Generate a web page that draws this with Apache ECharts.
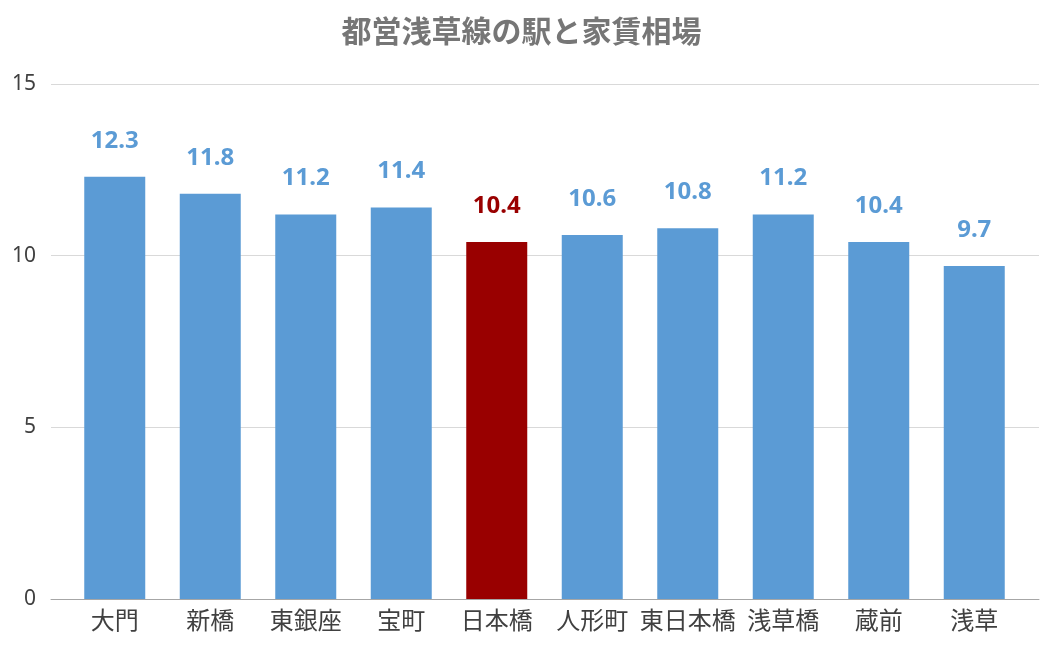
<!DOCTYPE html>
<html>
<head>
<meta charset="utf-8">
<script src="https://cdn.jsdelivr.net/npm/echarts@6/dist/echarts.min.js"></script>
<style>
  html, body { margin: 0; padding: 0; background: #fff; }
  #main { width: 1043px; height: 657px; }
</style>
</head>
<body>
<div id="main"></div>
<script>
const stations = ['大門', '新橋', '東銀座', '宝町', '日本橋', '人形町', '東日本橋', '浅草橋', '蔵前', '浅草'];
const rents = [12.3, 11.8, 11.2, 11.4, 10.4, 10.6, 10.8, 11.2, 10.4, 9.7];
const highlight = '日本橋';

const blue = '#5b9bd5';
const red = '#990000';
const font = '"Noto Sans", "Noto Sans CJK JP", sans-serif';

var chart = echarts.init(document.getElementById('main'));

var barData = rents.map(function (v, i) {
  var c = stations[i] === highlight ? red : blue;
  return { value: v, itemStyle: { color: c }, label: { color: c } };
});

var option = {
  backgroundColor: '#fff',
  animation: false,
  title: {
    text: '都営浅草線の駅と家賃相場',
    left: 'center',
    top: 13,
    textStyle: { fontFamily: font, fontSize: 30, fontWeight: 'bold', color: '#767676' }
  },
  grid: [
    { left: 51, right: 4, top: 84, bottom: 58 },
    { left: 67, right: 21, top: 84, bottom: 58 }
  ],
  xAxis: [
    {
      gridIndex: 0, type: 'value', min: 0, max: 1,
      axisLine: { show: true, lineStyle: { color: '#a6a6a6', width: 1 } },
      axisTick: { show: false }, axisLabel: { show: false }, splitLine: { show: false }
    },
    {
      gridIndex: 1, type: 'category', data: stations,
      axisLine: { show: false }, axisTick: { show: false },
      axisLabel: { interval: 0, fontFamily: font, fontSize: 24, color: '#404040', margin: 11 }
    }
  ],
  yAxis: [
    {
      gridIndex: 0, type: 'value', min: 0, max: 15, interval: 5,
      axisLine: { show: false }, axisTick: { show: false },
      axisLabel: { fontFamily: font, fontSize: 21, color: '#404040', margin: 15 },
      splitLine: { lineStyle: { color: '#d9d9d9', width: 1 } }
    },
    {
      gridIndex: 1, type: 'value', min: 0, max: 15, interval: 5, show: false
    }
  ],
  series: [
    {
      type: 'bar',
      xAxisIndex: 1, yAxisIndex: 1,
      barWidth: 61,
      data: barData,
      label: {
        show: true, position: 'top', distance: 24,
        fontFamily: font, fontSize: 24, fontWeight: 'bold',
        formatter: function (p) { return p.value.toFixed(1); }
      }
    }
  ]
};

chart.setOption(option);
</script>
</body>
</html>
